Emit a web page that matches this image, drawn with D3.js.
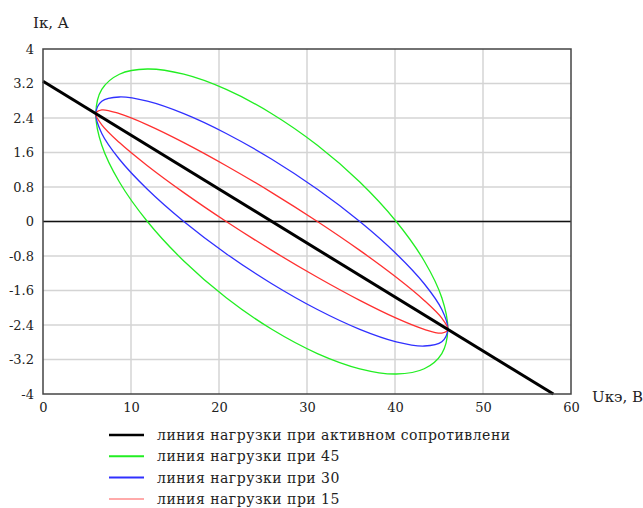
<!DOCTYPE html>
<html><head><meta charset="utf-8">
<script src="https://cdn.jsdelivr.net/npm/d3@7"></script>
<style>body{margin:0;background:#fff}svg{display:block}text{font-family:"DejaVu Serif",serif;fill:#222}</style>
</head><body>
<svg id="c" width="643" height="508"></svg>
<script>
const xTicks = [0, 10, 20, 30, 40, 50, 60];
const yTicks = [4, 3.2, 2.4, 1.6, 0.8, 0, -0.8, -1.6, -2.4, -3.2, -4];
const loadLineU = [0, 58];
const loadLineI = [3.25, -4];
// ellipse points (U, I)
const ellipseU = [26, 31.18, 36, 40.14, 43.32, 45.32, 46, 45.32, 43.32, 40.14, 36, 31.18, 26, 20.82, 16, 11.86, 8.68, 6.68, 6, 6.68, 8.68, 11.86, 16, 20.82];
const green45I = [2.5, 1.768, 0.915, 0, -0.915, -1.768, -2.5, -3.062, -3.415, -3.536, -3.415, -3.062, -2.5, -1.768, -0.915, 0, 0.915, 1.768, 2.5, 3.062, 3.415, 3.536, 3.415, 3.062];
const blue30I = [1.443, 0.747, 0, -0.747, -1.443, -2.041, -2.5, -2.789, -2.887, -2.789, -2.5, -2.041, -1.443, -0.747, 0, 0.747, 1.443, 2.041, 2.5, 2.789, 2.887, 2.789, 2.5, 2.041];
const red15I = [0.670, 0, -0.670, -1.294, -1.830, -2.242, -2.5, -2.588, -2.5, -2.242, -1.830, -1.294, -0.670, 0, 0.670, 1.294, 1.830, 2.242, 2.5, 2.588, 2.5, 2.242, 1.830, 1.294];
const legendLabels = ["линия нагрузки при активном сопротивлени", "линия нагрузки при 45", "линия нагрузки при 30", "линия нагрузки при 15"];
const colors = ["#000000", "#22ee22", "#3030ff", "#ff3030"];
const legendColors = ["#000000", "#22ee22", "#3030ff", "#ffaaaa"];

const svg = d3.select("#c");
const L = 43, R = 571, T = 49, B = 394;
const x = d3.scaleLinear().domain([0, 60]).range([L, R]);
const y = d3.scaleLinear().domain([-4, 4]).range([B, T]);

// grid
svg.append("g").selectAll("line").data(xTicks.slice(1, -1)).join("line")
  .attr("x1", d => x(d)).attr("x2", d => x(d)).attr("y1", T).attr("y2", B)
  .attr("stroke", "#d4d4d4").attr("stroke-width", 1.5);
svg.append("g").selectAll("line").data(yTicks.slice(1, -1)).join("line")
  .attr("x1", L).attr("x2", R).attr("y1", d => y(d)).attr("y2", d => y(d))
  .attr("stroke", "#d4d4d4").attr("stroke-width", 1.5);

// axes labels
const ax = svg.append("g").attr("transform", `translate(0,${B})`)
  .call(d3.axisBottom(x).tickValues(xTicks).tickSize(0).tickPadding(9).tickFormat(d => d));
ax.select(".domain").remove();
ax.selectAll("text").attr("font-size", 13).attr("font-family", "DejaVu Serif").attr("fill", "#222");
const ay = svg.append("g").attr("transform", `translate(${L},0)`)
  .call(d3.axisLeft(y).tickValues(yTicks).tickSize(0).tickPadding(9).tickFormat(d => String(d)));
ay.select(".domain").remove();
ay.selectAll("text").attr("font-size", 13).attr("font-family", "DejaVu Serif").attr("fill", "#222");

// zero line
svg.append("line").attr("x1", L).attr("x2", R).attr("y1", y(0)).attr("y2", y(0))
  .attr("stroke", "#111").attr("stroke-width", 1.5);

// ellipses
const ell = d3.line().x(d => x(d[0])).y(d => y(d[1])).curve(d3.curveCatmullRomClosed.alpha(0.5));
[[green45I, colors[1]], [blue30I, colors[2]], [red15I, colors[3]]].forEach(([I, c]) => {
  svg.append("path").datum(ellipseU.map((u, i) => [u, I[i]]))
    .attr("d", ell).attr("fill", "none").attr("stroke", c).attr("stroke-width", 1.3);
});

// load line
svg.append("path").datum(loadLineU.map((u, i) => [u, loadLineI[i]]))
  .attr("d", d3.line().x(d => x(d[0])).y(d => y(d[1])))
  .attr("fill", "none").attr("stroke", "#000").attr("stroke-width", 3);

// frame
svg.append("rect").attr("x", L).attr("y", T).attr("width", R - L).attr("height", B - T)
  .attr("fill", "none").attr("stroke", "#444").attr("stroke-width", 1.5);

// axis titles
svg.append("text").attr("x", 33).attr("y", 28).attr("font-size", 15).text("Iк, A");
svg.append("text").attr("x", 592).attr("y", 402).attr("font-size", 15).text("Uкэ, B");

// legend
const lg = svg.append("g");
legendLabels.forEach((t, i) => {
  const yy = 435 + i * 21.3;
  lg.append("line").attr("x1", 109).attr("x2", 144).attr("y1", yy).attr("y2", yy)
    .attr("stroke", legendColors[i]).attr("stroke-width", i === 0 ? 2.5 : 2);
  lg.append("text").attr("x", 157).attr("y", yy + 5).attr("font-size", 14)
    .attr("letter-spacing", 0.5).text(t);
});
</script>
</body></html>
